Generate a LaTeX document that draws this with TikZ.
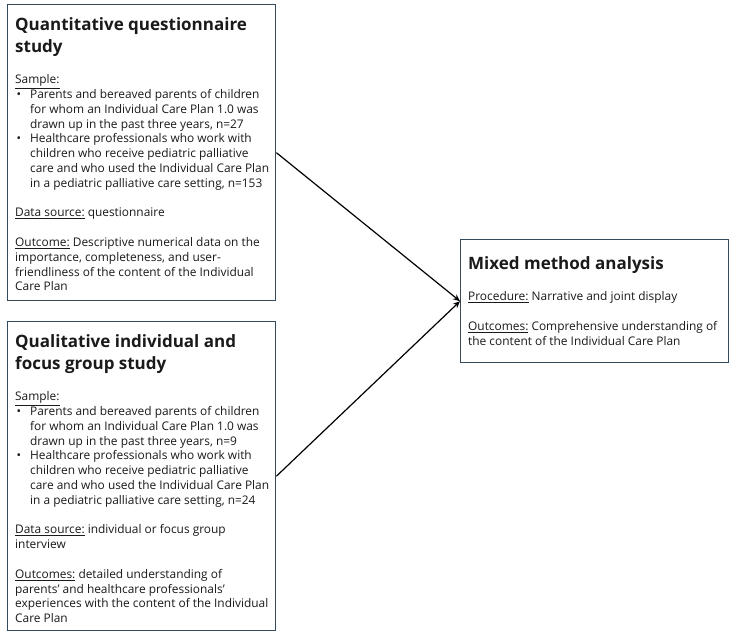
\documentclass[tikz,border=0pt]{standalone}
\usepackage{fontspec}
\setmainfont{Open Sans}
\usetikzlibrary{arrows.meta}
\definecolor{boxline}{HTML}{34495A}
\definecolor{txt}{HTML}{1A1A1A}
\newcommand{\bul}{\makebox[15pt][l]{\hspace*{1.5pt}•}}
\newcommand{\ind}{\hspace*{15pt}}
\tikzset{
  panel/.style={draw=boxline, line width=1.4pt, rectangle, inner sep=0pt, anchor=north west},
  ttl/.style={inner sep=0pt, anchor=north west, align=left, text=txt, font=\fontsize{17}{22.5}\selectfont\bfseries},
  body/.style={inner sep=0pt, anchor=north west, align=left, text=txt, font=\fontsize{11.9}{14.8}\selectfont},
  link/.style={draw=black, line width=1.2pt, -{Stealth[length=7pt,width=6pt]}}
}
\begin{document}
\begin{tikzpicture}[x=1pt,y=1pt]
\useasboundingbox (0,0) rectangle (736,-636);
\fill[white] (0,0) rectangle (736,-636);
% boxes
\node[panel, minimum width=268pt, minimum height=296pt] (q1) at (7,-4) {};
\node[panel, minimum width=268pt, minimum height=309pt] (q2) at (7,-321) {};
\node[panel, minimum width=268pt, minimum height=123pt] (mx) at (460,-239) {};
% box 1 texts
\node[ttl] (t1) at (15,-17) {Quantitative questionnaire\\study};
\node[body] (b1) at (15,-74.5) {\underline{Sample:}\\
\bul Parents and bereaved parents of children\\
\ind for whom an Individual Care Plan 1.0 was\\
\ind drawn up in the past three years, n=27\\
\bul Healthcare professionals who work with\\
\ind children who receive pediatric palliative\\
\ind care and who used the Individual Care Plan\\
\ind in a pediatric palliative care setting, n=153\\[14.8pt]
\underline{Data source:} questionnaire\\[14.8pt]
\underline{Outcome:} Descriptive numerical data on the\\
importance, completeness, and user-\\
friendliness of the content of the Individual\\
Care Plan};
% box 2 texts
\node[ttl] (t2) at (15,-334) {Qualitative individual and\\focus group study};
\node[body] (b2) at (15,-391.5) {\underline{Sample:}\\
\bul Parents and bereaved parents of children\\
\ind for whom an Individual Care Plan 1.0 was\\
\ind drawn up in the past three years, n=9\\
\bul Healthcare professionals who work with\\
\ind children who receive pediatric palliative\\
\ind care and who used the Individual Care Plan\\
\ind in a pediatric palliative care setting, n=24\\[14.8pt]
\underline{Data source:} individual or focus group\\
interview\\[14.8pt]
\underline{Outcomes:} detailed understanding of\\
parents' and healthcare professionals'\\
experiences with the content of the Individual\\
Care Plan};
% box 3 texts
\node[ttl] (t3) at (468,-256) {Mixed method analysis};
\node[body] (b3) at (468,-291.5) {\underline{Procedure:} Narrative and joint display\\[14.8pt]
\underline{Outcomes:} Comprehensive understanding of\\
the content of the Individual Care Plan};
% connectors
\draw[link] (q1.east) -- (mx.west);
\draw[link] (q2.east) -- (mx.west);
\end{tikzpicture}
\end{document}
